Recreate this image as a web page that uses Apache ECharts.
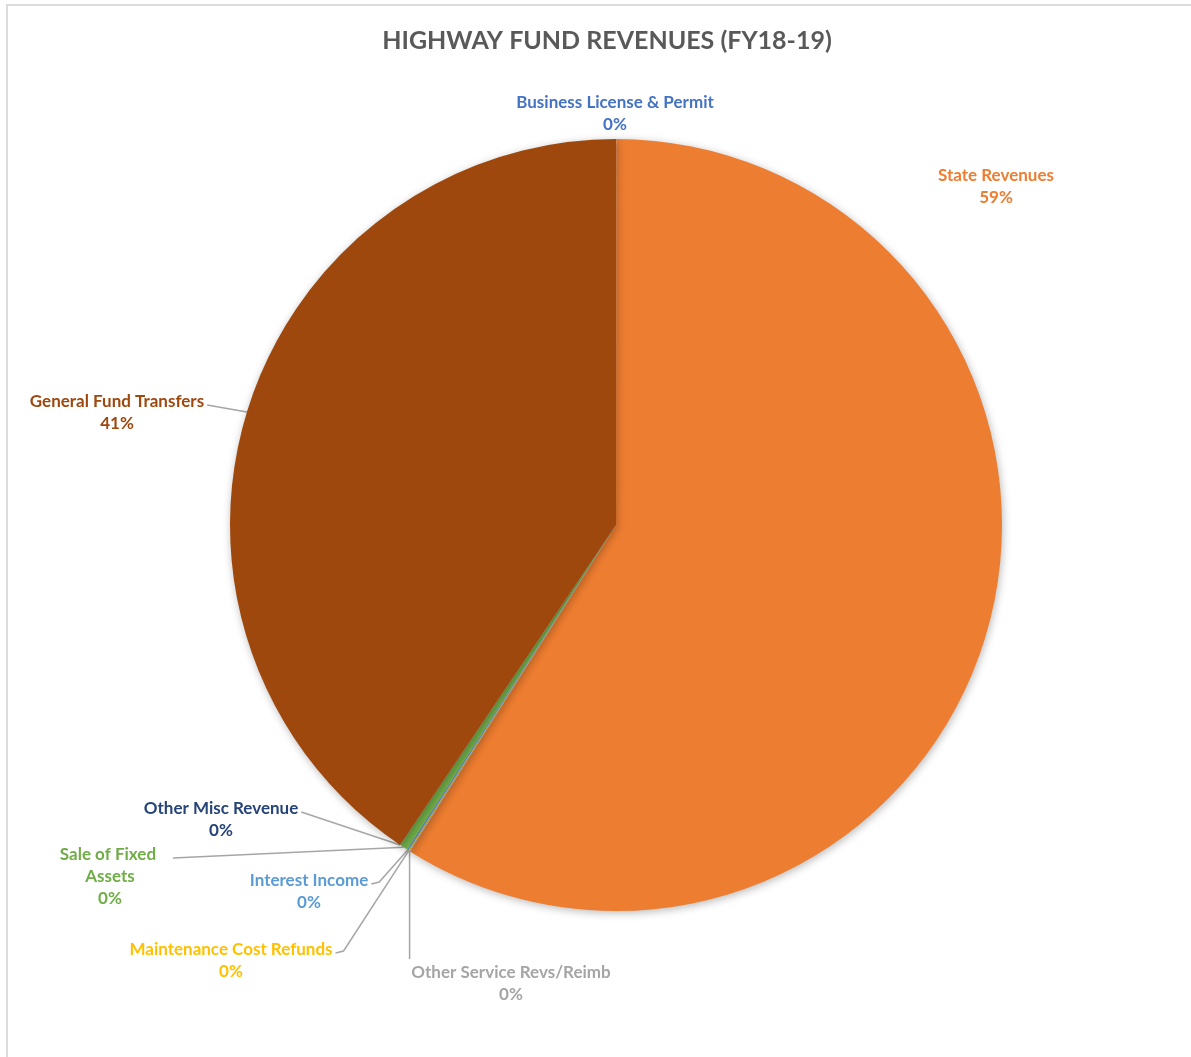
<!DOCTYPE html>
<html>
<head>
<meta charset="utf-8">
<title>Highway Fund Revenues (FY18-19)</title>
<script src="https://cdn.jsdelivr.net/npm/echarts@6/dist/echarts.min.js"></script>
<style>
  html, body { margin: 0; padding: 0; background: #ffffff; }
  #chart { width: 1191px; height: 1057px; }
</style>
</head>
<body>
<div id="chart"></div>
<script>
// Revenue sources, in the order the slices run clockwise from 12 o'clock
const categories = [
  'Business License & Permit',
  'State Revenues',
  'Other Service Revs/Reimb',
  'Maintenance Cost Refunds',
  'Interest Income',
  'Sale of Fixed Assets',
  'Other Misc Revenue',
  'General Fund Transfers'
];
// Share of total revenue (percent)
const shares = [0.01, 58.95, 0.04, 0.04, 0.07, 0.33, 0.01, 40.55];
const sliceColors = ['#4472C4', '#ED7D31', '#A5A5A5', '#FFC000', '#5B9BD5', '#70AD47', '#264478', '#9E480E'];

const titleText = 'HIGHWAY FUND REVENUES (FY18-19)';
const FONT = 'Lato, "Open Sans", sans-serif';

// Where each data label sits: centre x, top y, and which side the leader line leaves from
const labelPlacement = {
  'Business License & Permit': { cx: 615, top: 92, line: 'none' },
  'State Revenues':            { cx: 996, top: 165, line: 'none' },
  'General Fund Transfers':    { cx: 117, top: 391, line: 'right' },
  'Other Misc Revenue':        { cx: 221, top: 798, line: 'right' },
  'Sale of Fixed Assets':      { cx: 110, top: 844, line: 'right', width: 120 },
  'Interest Income':           { cx: 309, top: 870, line: 'elbow' },
  'Maintenance Cost Refunds':  { cx: 231, top: 939, line: 'elbow' },
  'Other Service Revs/Reimb':  { cx: 511, top: 962, line: 'down' }
};

const chart = echarts.init(document.getElementById('chart'), null, { renderer: 'canvas' });

const seriesData = categories.map((name, i) => {
  const item = { name: name, value: shares[i], itemStyle: { color: sliceColors[i] } };
  const p = labelPlacement[name];
  item.label = { color: sliceColors[i] };
  if (p && p.width) {
    item.label.width = p.width;
    item.label.overflow = 'break';
  }
  return item;
});

const option = {
  backgroundColor: '#ffffff',
  animation: false,
  title: {
    text: titleText,
    left: 602,
    textAlign: 'center',
    top: 23,
    textStyle: { fontFamily: FONT, fontWeight: 'bold', fontSize: 25, color: '#595959' }
  },
  graphic: [{
    type: 'rect',
    shape: { x: 7, y: 5, width: 1300, height: 1200 },
    style: { fill: 'none', stroke: '#dcdcdc', lineWidth: 2 },
    silent: true,
    z: 0
  }],
  series: [{
    type: 'pie',
    center: [616, 525],
    radius: ['0%', 386],
    startAngle: 90,
    clockwise: true,
    avoidLabelOverlap: false,
    percentPrecision: 0,
    minShowLabelAngle: 0,
    itemStyle: {
      borderWidth: 0,
      shadowBlur: 8,
      shadowColor: 'rgba(0,0,0,0.28)',
      shadowOffsetX: 1,
      shadowOffsetY: 2
    },
    label: {
      show: true,
      position: 'outside',
      formatter: '{b}\n{d}%',
      fontFamily: FONT,
      fontWeight: 'bold',
      fontSize: 17,
      lineHeight: 22,
      align: 'center'
    },
    labelLine: {
      show: true,
      length: 10,
      length2: 10,
      lineStyle: { color: '#a6a6a6', width: 1.5 }
    },
    emphasis: { disabled: true },
    labelLayout: function (params) {
      const name = categories[params.dataIndex];
      const p = labelPlacement[name];
      if (!p) return {};
      const w = params.labelRect.width;
      const start = (params.labelLinePoints && params.labelLinePoints[0]) || [412, 851];
      const out = { x: p.cx, y: p.top, align: 'center', verticalAlign: 'top' };
      const right = p.cx + w / 2 + 3;
      const midY = p.top + 14;
      if (p.line === 'none') {
        out.labelLinePoints = [start, start];
      } else if (p.line === 'right') {
        out.labelLinePoints = [start, [right, midY]];
      } else if (p.line === 'elbow') {
        out.labelLinePoints = [start, [right + 8, midY - 2], [right, midY]];
      } else if (p.line === 'down') {
        out.labelLinePoints = [start, [start[0], p.top - 3]];
      }
      return out;
    },
    data: seriesData
  }]
};

chart.setOption(option);
</script>
</body>
</html>
